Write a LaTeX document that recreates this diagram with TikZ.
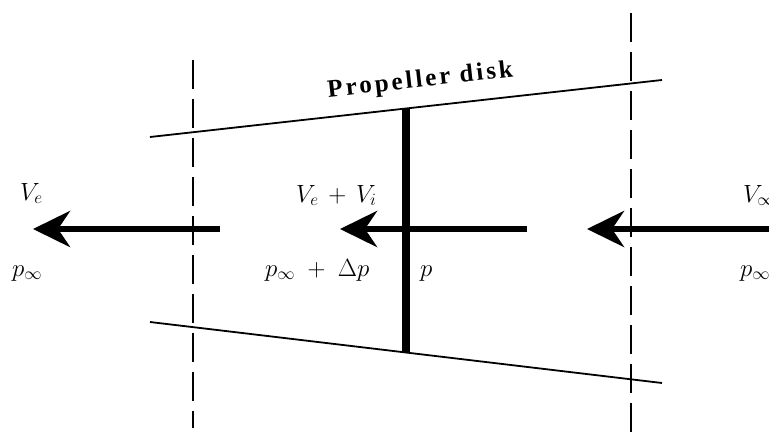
\documentclass[tikz,border=0pt]{standalone}
\usepackage{fontspec}
\newfontfamily\diskfont[LetterSpace=12]{Liberation Serif}
\usetikzlibrary{arrows.meta}
\begin{document}
\begin{tikzpicture}[x=1pt,y=-1pt,
  bound/.style={line width=1.8pt},
  guide/.style={line width=2.4pt, dash pattern=on 29pt off 10pt},
  flow/.style={line width=6.5pt,-{Stealth[length=37pt,width=36pt,inset=12pt]}},
  diskline/.style={line width=8pt},
  lab/.style={font=\fontsize{25}{29}\selectfont, inner sep=0pt, anchor=base west}]
\clip (0,0) rectangle (769,432);
\fill[white] (0,0) rectangle (769,432);
% boundary lines of the stream tube
\coordinate (ul) at (150,137);
\coordinate (ur) at (662,80);
\coordinate (ll) at (150,322);
\coordinate (lr) at (662,383);
\draw[bound] (ul) -- (ur);
\draw[bound] (ll) -- (lr);
% guide lines
\coordinate (g1t) at (193,60);
\coordinate (g1b) at (193,428);
\coordinate (g2t) at (631,13);
\coordinate (g2b) at (631,432);
\draw[guide] (g1t) -- (g1b);
\draw[guide] (g2t) -- (g2b);
% propeller disk
\coordinate (dt) at (406,108.5);
\coordinate (db) at (406,352.5);
\draw[diskline] (dt) -- (db);
% flow arrows
\coordinate (a1s) at (220,229);
\coordinate (a1e) at (33,229);
\coordinate (a2s) at (527,229);
\coordinate (a2e) at (340,229);
\coordinate (a3s) at (780,229);
\coordinate (a3e) at (587,229);
\draw[flow] (a1s) -- (a1e);
\draw[flow] (a2s) -- (a2e);
\draw[flow] (a3s) -- (a3e);
% labels
\node[lab] (ve) at (20,200) {$V_e$};
\node[lab] (pl) at (12,276) {$p_\infty$};
\node[lab] (vm) at (296,202) {$V_e \mkern3mu+\mkern3mu V_i$};
\node[lab] (pm) at (265,276) {$p_\infty \mkern5mu+\mkern5mu \Delta p$};
\node[lab] (pd) at (420,276) {$p$};
\node[lab] (vr) at (743,202) {$V_\infty$};
\node[lab] (pr) at (740,276) {$p_\infty$};
\node[inner sep=0pt, anchor=base, rotate=6.3, font=\diskfont\bfseries\fontsize{25}{28}\selectfont] (pdisk) at (421,87) {Propeller disk};
\end{tikzpicture}
\end{document}
